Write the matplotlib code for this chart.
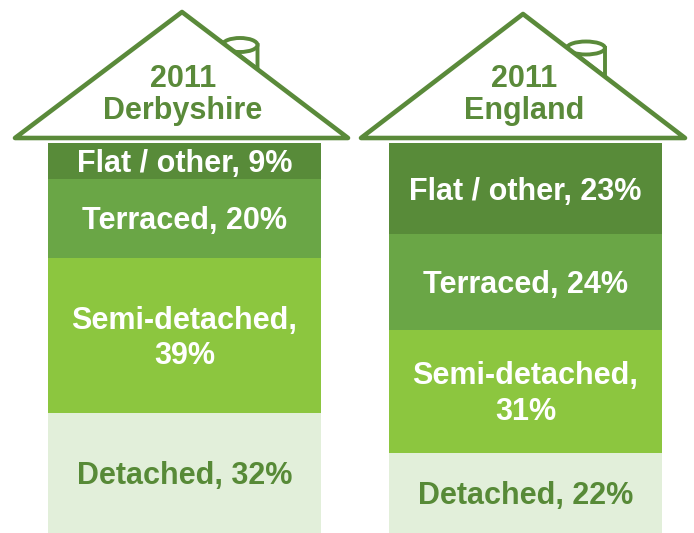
import matplotlib.pyplot as plt
from matplotlib.patches import Polygon, Ellipse

# Housing type shares (%), stacked top to bottom
categories = ["Flat / other", "Terraced", "Semi-detached", "Detached"]
labels = ["Flat / other, {}%", "Terraced, {}%", "Semi-detached,\n{}%", "Detached, {}%"]
areas = ["2011\nDerbyshire", "2011\nEngland"]
derbyshire = [9, 20, 39, 32]
england = [23, 24, 31, 22]

seg_colors = ["#588b39", "#6aa646", "#8cc63f", "#e2efda"]
text_colors = ["white", "white", "white", "#578a37"]
green = "#5a8a3a"

W, H = 694, 533
fig = plt.figure(figsize=(W / 100, H / 100), dpi=100)
ax = fig.add_axes([0, 0, 1, 1])
ax.set_xlim(0, W)
ax.set_ylim(H, 0)
ax.axis("off")

plt.rcParams["font.family"] = ["Liberation Sans", "DejaVu Sans"]

body_top = 143
px_per_pct = 3.97

houses = [
    # body left/right, roof apex, roof base x, chimney ellipse centre & size
    dict(x0=48, x1=321, apex=(182, 12), base=(15, 348), chim=(240, 45, 35, 14)),
    dict(x0=389, x1=662, apex=(523, 14), base=(361, 685), chim=(586, 48, 38, 13)),
]

for house, title, values in zip(houses, areas, [derbyshire, england]):
    cx, cy, cw, ch = house["chim"]
    ax_, ay = house["apex"]
    bl, br = house["base"]
    base_y = 138
    slope = (base_y - ay) / (br - ax_)
    # chimney: stack walls down to the roof slope, then the top ellipse
    left_w, right_w = cx - cw / 2, cx + cw / 2
    y_left = ay + (left_w - ax_) * slope
    y_right = ay + (right_w - ax_) * slope
    stack = Polygon([(left_w, cy), (right_w, cy), (right_w, y_right), (left_w, y_left)],
                    closed=True, facecolor="white", edgecolor=green, lw=2.8, zorder=1)
    ax.add_patch(stack)
    ax.add_patch(Ellipse((cx, cy), cw, ch, facecolor="white", edgecolor=green, lw=2.8, zorder=2))

    # roof triangle
    roof = Polygon([(bl, base_y), (ax_, ay), (br, base_y)], closed=True,
                   facecolor="white", edgecolor=green, lw=3.3, joinstyle="round", zorder=3)
    ax.add_patch(roof)
    ax.text(ax_ + 1, 95, title, ha="center", va="center", fontsize=22,
            fontweight="bold", color=green, linespacing=1.12, zorder=4)

    # stacked body
    xc = (house["x0"] + house["x1"]) / 2
    width = house["x1"] - house["x0"]
    bottom = body_top
    for v, c, tc, lab in zip(values, seg_colors, text_colors, labels):
        h = v * px_per_pct
        ax.bar(xc, h, bottom=bottom, width=width, color=c, linewidth=0, zorder=2)
        ty = min(bottom + h / 2, (bottom + H) / 2) + 3
        ax.text(xc, ty, lab.format(v), ha="center", va="center",
                fontsize=22, fontweight="bold", color=tc, linespacing=1.25, zorder=4)
        bottom += h

fig.savefig("out.png", dpi=100)
